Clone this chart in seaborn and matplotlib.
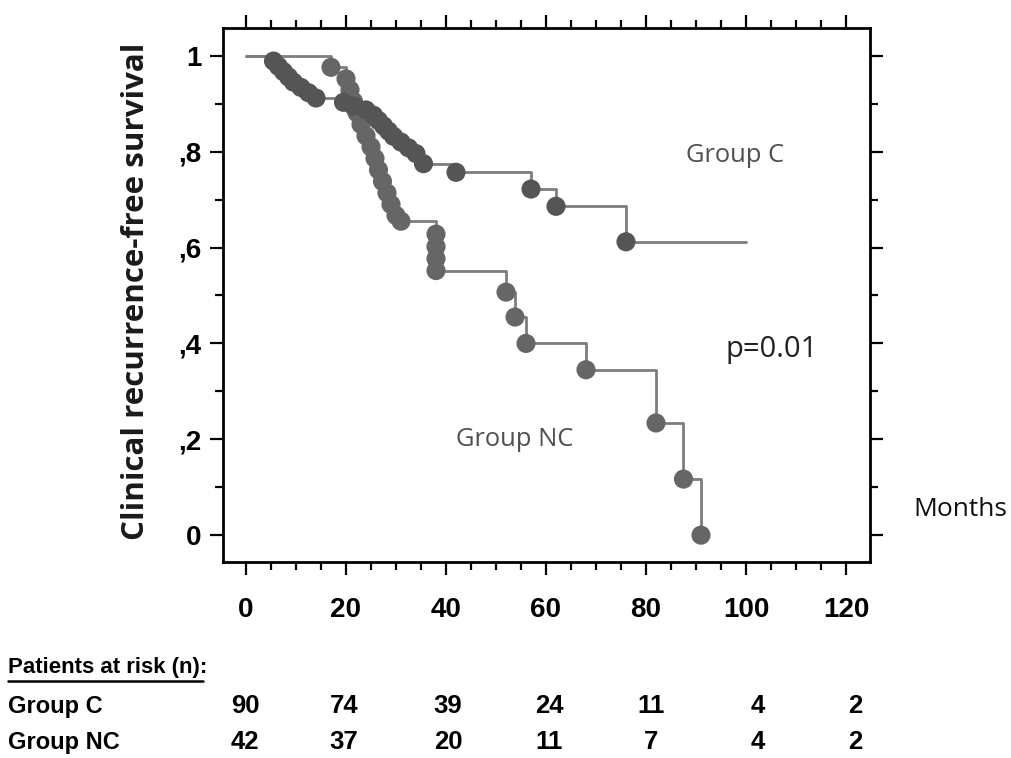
import numpy as np
import pandas as pd
import matplotlib
matplotlib.use("Agg")
import matplotlib.pyplot as plt
from matplotlib.ticker import MultipleLocator, FixedLocator, FixedFormatter
from matplotlib.lines import Line2D
import seaborn as sns

# ---- data (events: time in months, survival after event) ----
c_times = [5.5, 6.5, 7.5, 8.5, 9.5, 11.0, 12.5, 14.0, 19.5, 21.5, 24.0, 25.5, 26.5,
           27.5, 28.5, 29.5, 31.0, 32.5, 34.0, 35.5, 42.0, 57.0, 62.0, 76.0]
c_surv = [0.989, 0.978, 0.967, 0.956, 0.945, 0.934, 0.923, 0.912, 0.903, 0.895, 0.887,
          0.876, 0.865, 0.854, 0.843, 0.832, 0.820, 0.808, 0.796, 0.775, 0.757, 0.722,
          0.686, 0.612]
c_end = 100.0

nc_times = [17.0, 20.0, 20.8, 21.5, 22.2, 23.0, 24.0, 25.0, 25.8, 26.5, 27.3, 28.2,
            29.0, 30.0, 31.0, 38.0, 38.0, 38.0, 38.0, 52.0, 53.8, 56.0, 68.0, 82.0,
            87.5, 91.0]
nc_surv = [0.976, 0.952, 0.929, 0.905, 0.881, 0.857, 0.833, 0.810, 0.786, 0.762,
           0.738, 0.714, 0.690, 0.667, 0.655, 0.628, 0.602, 0.577, 0.552, 0.507,
           0.455, 0.400, 0.345, 0.234, 0.117, 0.0]

risk_groups = ["Group C", "Group NC"]
risk_c = [90, 74, 39, 24, 11, 4, 2]
risk_nc = [42, 37, 20, 11, 7, 4, 2]

x_ticks = [0, 20, 40, 60, 80, 100, 120]
y_ticks = [0, 0.2, 0.4, 0.6, 0.8, 1.0]
y_ticklabels = ["0", ",2", ",4", ",6", ",8", "1"]


def step_frame(times, surv, end=None):
    xs = [0.0] + list(times)
    ys = [1.0] + list(surv)
    if end is not None:
        xs.append(end)
        ys.append(ys[-1])
    return pd.DataFrame({"t": xs, "s": ys})


sns.set_theme(style="white")
plt.rcParams["font.family"] = ["Liberation Sans", "DejaVu Sans"]

fig = plt.figure(figsize=(10.12, 7.58), dpi=100)
ax = fig.add_axes([223 / 1012, 1 - 562 / 758, (870 - 223) / 1012, (562 - 28) / 758])

line_col = "#7d7d7d"
df_c = step_frame(c_times, c_surv, c_end)
df_nc = step_frame(nc_times, nc_surv)
sns.lineplot(data=df_c, x="t", y="s", ax=ax, estimator=None, sort=False,
             drawstyle="steps-post", color=line_col, lw=2.0, zorder=2)
sns.lineplot(data=df_nc, x="t", y="s", ax=ax, estimator=None, sort=False,
             drawstyle="steps-post", color=line_col, lw=2.0, zorder=2)

pts_c = pd.DataFrame({"t": c_times, "s": c_surv})
pts_nc = pd.DataFrame({"t": nc_times, "s": nc_surv})
sns.scatterplot(data=pts_nc, x="t", y="s", ax=ax, s=190, color="#666666",
                edgecolor="none", zorder=3)
sns.scatterplot(data=pts_c, x="t", y="s", ax=ax, s=190, color="#555555",
                edgecolor="none", zorder=4)

ax.set_xlim(-4.6, 124.8)
ax.set_ylim(-0.056, 1.058)
ax.set_xlabel("")
ax.set_ylabel("")

ax.xaxis.set_major_locator(FixedLocator(x_ticks))
ax.xaxis.set_minor_locator(MultipleLocator(5))
ax.yaxis.set_major_locator(FixedLocator(y_ticks))
ax.yaxis.set_major_formatter(FixedFormatter(y_ticklabels))
ax.yaxis.set_minor_locator(MultipleLocator(0.1))

for sp in ax.spines.values():
    sp.set_visible(True)
    sp.set_color("black")
    sp.set_linewidth(2.0)

ax.tick_params(which="both", direction="out", top=True, right=True,
               bottom=True, left=True, color="black", width=1.6)
ax.tick_params(which="major", length=9.5)
ax.tick_params(which="minor", length=5.5)
ax.tick_params(axis="x", which="major", pad=16, labelsize=20)
ax.tick_params(axis="y", which="major", pad=6, labelsize=20)
for lab in ax.get_xticklabels() + ax.get_yticklabels():
    lab.set_fontweight("bold")
    lab.set_color("black")

# axis titles
fig.text(136 / 1012, 1 - 291 / 758, "Clinical recurrence-free survival", rotation=90,
         ha="center", va="center", fontsize=22.5, fontweight="bold", color="#1a1a1a",
         family=["Open Sans", "DejaVu Sans"])
fig.text(960 / 1012, 1 - 510 / 758, "Months", ha="center", va="center",
         fontsize=19, color="#111111", family=["Open Sans", "DejaVu Sans"])

# annotations
ann_font = ["Open Sans", "DejaVu Sans"]
fig.text(735 / 1012, 1 - 155 / 758, "Group C", ha="center", va="center",
         fontsize=18.4, color="#505050", family=ann_font)
fig.text(772 / 1012, 1 - 350 / 758, "p=0.01", ha="center", va="center",
         fontsize=21, color="#222222", family=ann_font)
fig.text(515 / 1012, 1 - 440 / 758, "Group NC", ha="center", va="center",
         fontsize=18.4, color="#505050", family=ann_font)

# risk table
tab_font = ["Liberation Sans", "DejaVu Sans"]
fig.text(8 / 1012, 1 - 668 / 758, "Patients at risk (n):", ha="left", va="center",
         fontsize=16, fontweight="bold", color="black", family=tab_font)
fig.add_artist(Line2D([8 / 1012, 203 / 1012], [1 - 681 / 758, 1 - 681 / 758],
                      color="black", lw=1.8, transform=fig.transFigure))
col_x = [245, 344, 448, 549, 651, 758, 855]
row_y = [706, 742]
for gname, vals, yy in zip(risk_groups, [risk_c, risk_nc], row_y):
    fig.text(8 / 1012, 1 - yy / 758, gname, ha="left", va="center", fontsize=17,
             fontweight="bold", color="black", family=tab_font)
    for xx, v in zip(col_x, vals):
        fig.text(xx / 1012, 1 - yy / 758, str(v), ha="center", va="center",
                 fontsize=18.5, fontweight="bold", color="black", family=tab_font)

fig.savefig("out.png", dpi=100)
